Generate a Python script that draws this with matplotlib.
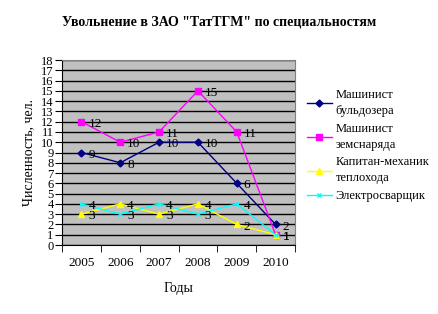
import matplotlib.pyplot as plt
import numpy as np

plt.rcParams['font.family'] = ['Liberation Serif', 'DejaVu Serif']

years = ["2005", "2006", "2007", "2008", "2009", "2010"]
bulldozer = [9, 8, 10, 10, 6, 2]
dredger = [12, 10, 11, 15, 11, 1]
captain = [3, 4, 3, 4, 2, 1]
welder = [4, 3, 4, 3, 4, 1]

names = ["Машинист\nбульдозера", "Машинист\nземснаряда",
         "Капитан-механик\nтеплохода", "Электросварщик"]
colors = ["#000080", "#FF00FF", "#FFFF00", "#00FFFF"]
markers = ["D", "s", "^", "x"]
msizes = [3.5, 4, 4.5, 3]

fig = plt.figure(figsize=(4.38, 3.14), dpi=100)
ax = fig.add_axes([62 / 438, 1 - 245 / 314, 233 / 438, 185 / 314])
ax.set_facecolor("#C0C0C0")

x = np.arange(len(years))
for vals, name, c, m, ms in zip([bulldozer, dredger, captain, welder],
                                names, colors, markers, msizes):
    ax.plot(x, vals, color=c, lw=1, marker=m, markersize=ms, label=name)
    for xi, v in zip(x, vals):
        ax.annotate(str(v), (xi, v), xytext=(5, -1.5), textcoords="offset points",
                    ha="left", va="center", fontsize=9.5)

ax.set_xlim(-0.5, 5.5)
ax.set_ylim(0, 18)
ax.set_yticks(range(0, 19))
ax.yaxis.grid(True, color="black", lw=1)
ax.set_axisbelow(True)
ax.set_xticks(x)
ax.set_xticklabels(years, fontsize=9.5)
ax.set_xticks(np.arange(-0.5, 6, 1), minor=True)
ax.tick_params(axis="x", which="major", length=0, pad=9)
ax.tick_params(axis="x", which="minor", length=5, color="black")
ax.tick_params(axis="y", length=5, labelsize=9, pad=1)
for s in ["top", "right"]:
    ax.spines[s].set_color("#808080")
ax.spines["left"].set_color("black")
ax.spines["bottom"].set_color("black")

ax.set_xlabel("Годы", fontsize=10, labelpad=9)
ax.set_ylabel("Численность, чел.", fontsize=10, labelpad=4)
fig.text(219 / 438, 1 - 22 / 314, 'Увольнение в ЗАО "ТатТГМ" по специальностям',
         ha="center", va="center", fontsize=10, fontweight="bold")

leg = ax.legend(loc="upper left", bbox_to_anchor=(1.03, 0.87), frameon=False,
                fontsize=9, handlelength=2.0, borderaxespad=0, labelspacing=0.45,
                handletextpad=0.3)
for t in leg.get_texts():
    t.set_linespacing(1.45)

fig.savefig("out.png", dpi=100)
